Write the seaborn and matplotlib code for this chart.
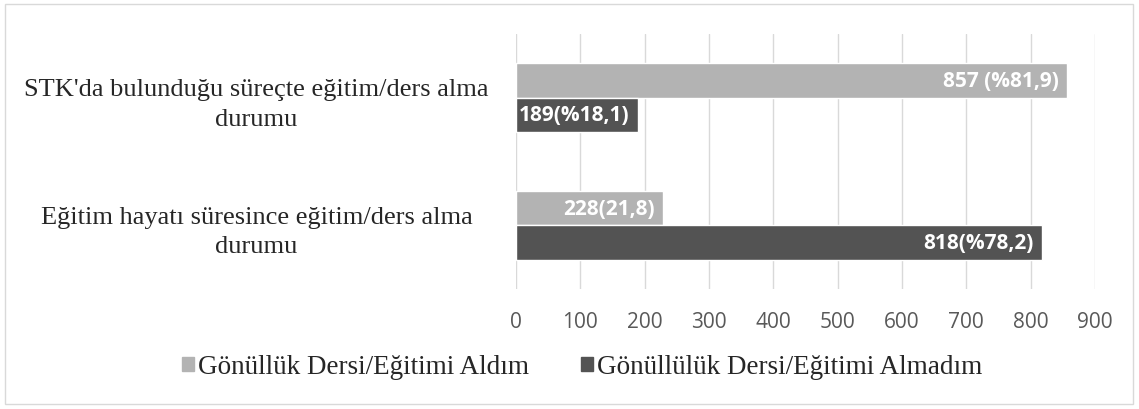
import matplotlib
matplotlib.use("Agg")
import matplotlib.pyplot as plt
import pandas as pd
import seaborn as sns
from matplotlib.patches import Rectangle

categories = [
    "STK'da bulunduğu süreçte eğitim/ders alma\ndurumu",
    "Eğitim hayatı süresince eğitim/ders alma\ndurumu",
]
series_names = ["Gönüllük Dersi/Eğitimi Aldım", "Gönüllülük Dersi/Eğitimi Almadım"]
aldim = [857, 228]
almadim = [189, 818]
aldim_labels = ["857 (%81,9)", "228(21,8)"]
almadim_labels = ["189(%18,1)", "818(%78,2)"]
colors = ["#b3b3b3", "#535353"]

rows = []
for i, cat in enumerate(categories):
    rows.append({"Durum": cat, "Seri": series_names[0], "Sayi": aldim[i]})
    rows.append({"Durum": cat, "Seri": series_names[1], "Sayi": almadim[i]})
df = pd.DataFrame(rows)

sns.set_style("white")
fig = plt.figure(figsize=(11.39, 4.10), dpi=100)
ax = fig.add_axes([516 / 1139, 1 - 290 / 410, (1095 - 516) / 1139, (290 - 35) / 410])

sns.barplot(data=df, y="Durum", x="Sayi", hue="Seri", hue_order=series_names,
            palette=colors, orient="h", width=0.54, ax=ax, legend=False,
            saturation=1)

# value labels inside the bar ends
for cont, labels in zip(ax.containers, [aldim_labels, almadim_labels]):
    texts = ax.bar_label(cont, labels=labels, label_type="edge", padding=-6,
                         color="white", fontweight="bold", fontsize=15,
                         family="Open Sans")
    for t in texts:
        t.set_horizontalalignment("right")

ax.set_xlim(0, 900)
ax.set_xticks(range(0, 901, 100))
ax.grid(axis="x", color="#d9d9d9", linewidth=1)
ax.set_axisbelow(True)
for s in ax.spines.values():
    s.set_visible(False)
ax.set_xlabel("")
ax.set_ylabel("")
ax.tick_params(axis="x", length=0, pad=16, labelsize=15, labelcolor="#595959")
ax.tick_params(axis="y", length=0)
for lbl in ax.get_xticklabels():
    lbl.set_family("Open Sans")
for lbl in ax.get_yticklabels():
    lbl.set_family("Liberation Serif")
    lbl.set_fontsize(19)
    lbl.set_horizontalalignment("center")
    lbl.set_multialignment("center")
    lbl.set_linespacing(1.45)
    lbl.set_x(-0.44)

handles = [Rectangle((0, 0), 1, 1, color=c) for c in colors]
fig.legend(handles, series_names, loc="center", ncol=2,
           bbox_to_anchor=(582 / 1139, 1 - 368 / 410), frameon=False,
           prop={"family": "Liberation Serif", "size": 19.5},
           handlelength=0.45, handleheight=0.45, handletextpad=0.15,
           columnspacing=1.9)

fig.patches.append(Rectangle((5 / 1139, 5 / 410), 1 - 11 / 1139, 1 - 10 / 410,
                             transform=fig.transFigure, fill=False,
                             edgecolor="#d9d9d9", linewidth=1))

fig.savefig("out.png", dpi=100)
